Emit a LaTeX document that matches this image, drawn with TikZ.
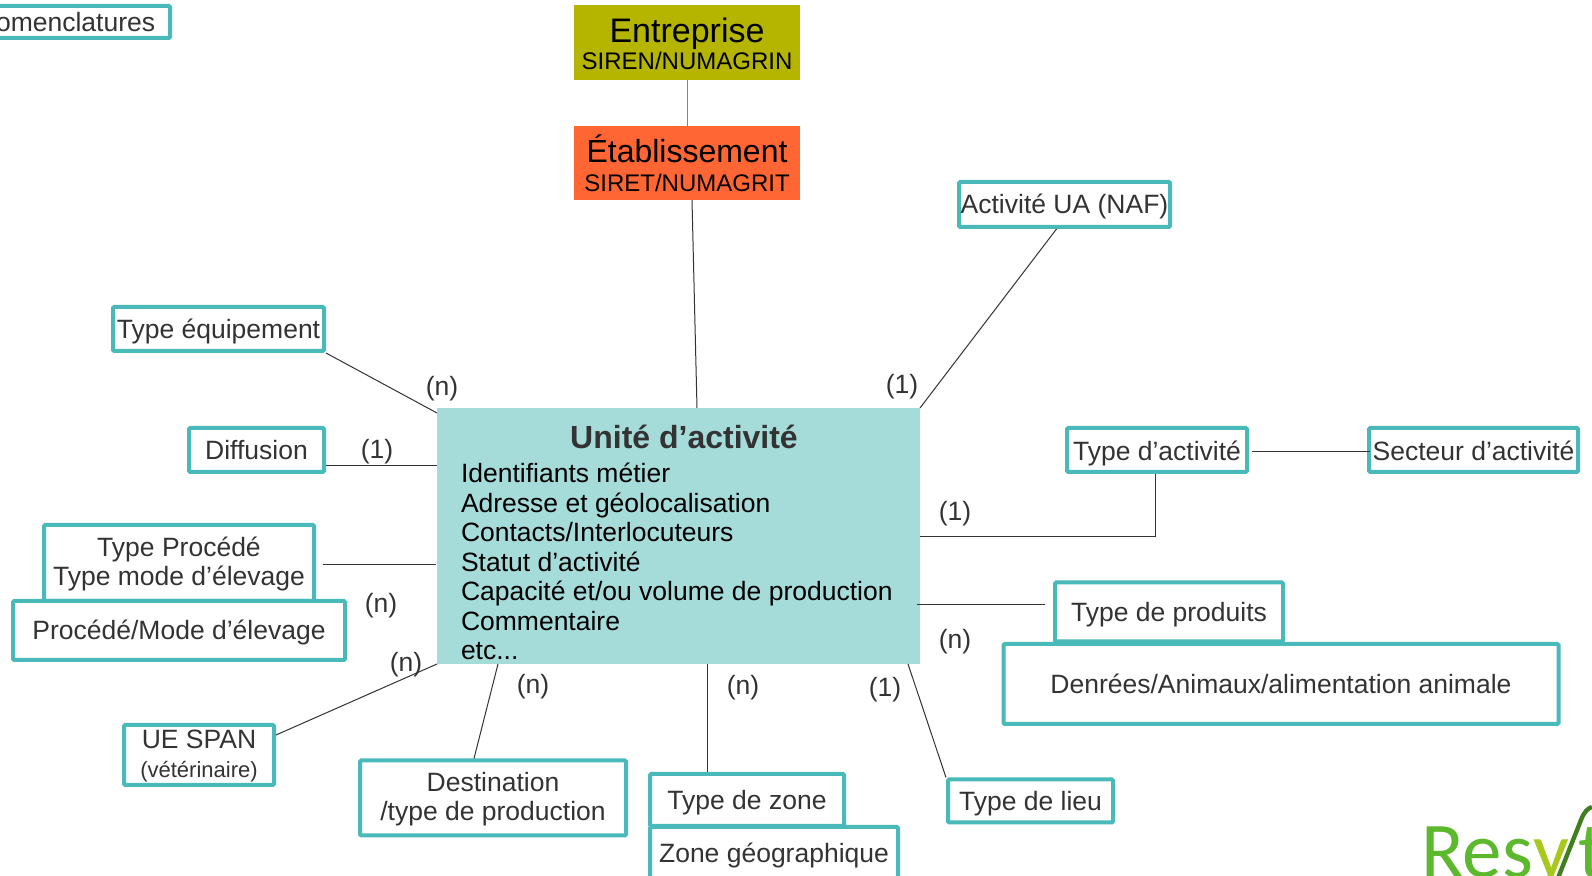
\documentclass[tikz,border=0pt]{standalone}
\usepackage{fontspec}
\setmainfont{Liberation Sans}
\newfontfamily\logofont{Carlito}
\usetikzlibrary{positioning,calc}
\definecolor{boxteal}{HTML}{4AB9B9}
\definecolor{unitefill}{HTML}{A5DBD9}
\definecolor{entreprisefill}{HTML}{B5B500}
\definecolor{etabfill}{HTML}{FF6633}
\definecolor{textgrey}{HTML}{333333}
\definecolor{siren}{HTML}{3A9BD0}
\definecolor{resgreen}{HTML}{5CB82C}
\definecolor{ygreen}{HTML}{A8C81E}
\definecolor{rootgreen}{HTML}{3F7F1E}
\tikzstyle{every node}=[font=\fontsize{13.25}{14.5}\selectfont]
\tikzstyle{entity}=[draw=boxteal,line width=2pt,fill=white,rounded corners=0.6pt,inner sep=0pt,text=textgrey,align=center]
\tikzstyle{oneline}=[text height=9.5pt,text depth=0pt]
\tikzstyle{twolines}=[text depth=1.5pt]
\tikzstyle{head}=[inner sep=0pt,outer sep=0pt,align=center,text=black]
\tikzstyle{card}=[inner sep=0pt,text=textgrey]
\tikzstyle{link}=[line width=0.5pt,draw=textgrey]
\tikzstyle{logo}=[inner sep=0pt,anchor=base west,font=\fontsize{39.5}{40}\logofont]
\tikzset{boxsize/.style 2 args={minimum width=#1*0.5pt,minimum height=#2*0.5pt}}
\newcommand{\bigline}[2]{{\fontsize{#1}{14.5}\selectfont #2}}
\newcommand{\smallline}[1]{{\fontsize{12}{14.5}\selectfont #1}}

\begin{document}
\begin{tikzpicture}[x=0.5pt,y=-0.5pt]
      \useasboundingbox (0,0) rectangle (1592,876);
      \clip (0,0) rectangle (1592,876);

      \node [entity,oneline,boxsize={208}{32}] (nomenclatures) at (66,22) {Nomenclatures};

      \node [head,text depth=0pt,fill=entreprisefill,boxsize={226}{75}] (entreprise) at (687,42.5) {\rule{0pt}{14pt}\bigline{17}{Entreprise}\\[-1pt]\smallline{SIREN/NUMAGRIN}};
      \node [head,text depth=0pt,fill=etabfill,boxsize={226}{74}] (etablissement) at (687,163) {\bigline{16}{Établissement}\\\smallline{SIRET/NUMAGRIT}};

      \node [head,fill=unitefill,boxsize={483}{256}] (unite) at (678.5,536) {};
      \node [head,text=textgrey,font=\fontsize{16}{18}\selectfont\bfseries] (unitetitle) at (684,436.5) {Unité d’activité};
      \node [head,anchor=north west,align=left,font=\fontsize{13.25}{14.75}\selectfont] (unitelist) at (461,463) {Identifiants métier\\Adresse et géolocalisation\\Contacts/Interlocuteurs\\Statut d’activité\\Capacité et/ou volume de production\\Commentaire\\etc...};

      \node [entity,oneline,boxsize={211}{45}] (activiteua) at (1064.5,204.5) {Activité UA (NAF)};
      \node [entity,oneline,boxsize={211}{44}] (typeequip) at (218.5,329) {Type équipement};
      \node [entity,oneline,boxsize={135}{44}] (diffusion) at (256.5,450) {Diffusion};
      \node [entity,twolines,boxsize={270}{76}] (typeprocede) at (179,563) {Type Procédé\\Type mode d’élevage};
      \node [entity,oneline,boxsize={332}{59}] (procede) at (179,630.5) {Procédé/Mode d’élevage};
      \node [entity,twolines,boxsize={150}{60}] (uespan) at (199,755) {UE SPAN\\{\fontsize{11}{12}\selectfont (vétérinaire)}};
      \node [entity,twolines,boxsize={266}{75}] (destination) at (493,798) {Destination\\/type de production};
      \node [entity,oneline,boxsize={194}{52}] (typezone) at (747,800) {Type de zone};
      \node [entity,oneline,boxsize={248}{52}] (zonegeo) at (774,853) {Zone géographique};
      \node [entity,oneline,boxsize={165}{43}] (typelieu) at (1030.5,801) {Type de lieu};
      \node [entity,oneline,boxsize={228}{59}] (typeproduits) at (1169,612) {Type de produits};
      \node [entity,oneline,boxsize={555}{80}] (denrees) at (1281,684) {Denrées/Animaux/alimentation animale};
      \node [entity,oneline,text height=11pt,boxsize={180}{44}] (typeactivite) at (1157,450) {Type d’activité};
      \node [entity,oneline,text height=11pt,boxsize={209}{44}] (secteur) at (1473.5,450) {Secteur d’activité};

      \node [card] (cardequip) at (442,389) {(n)};
      \node [card] (cardua) at (902,387) {(1)};
      \node [card] (carddiffusion) at (377,452) {(1)};
      \node [card] (cardtype) at (955,514) {(1)};
      \node [card] (cardprocede) at (381,606) {(n)};
      \node [card] (cardspan) at (406,665) {(n)};
      \node [card] (carddest) at (533,687) {(n)};
      \node [card] (cardzone) at (743,688) {(n)};
      \node [card] (cardlieu) at (885,690) {(1)};
      \node [card] (cardproduits) at (955,642) {(n)};

      \draw [line width=0.5pt,draw=siren] (entreprise) -- (etablissement);
      \draw [link] ($(etablissement.south)+(5,0)$) -- ($(unite.north)+(18.5,0)$);
      \draw [link] (typeequip.south east) -- ($(unite.north west)+(0,5)$);
      \draw [link] ($(activiteua.south)+(-8,0)$) -- (unite.north east);
      \draw [link] ($(unite.west)+(0,-70)$) -- ($(diffusion.east)+(0,16)$);
      \draw [link] ($(unite.west)+(-1,29)$) -- ($(typeprocede.east)+(7,2)$);
      \draw [link] ($(unite.east)+(0,1)$) -| ($(typeactivite.south)+(-2,0)$);
      \draw [link] ($(typeactivite.east)+(3,2)$) -- ($(secteur.west)+(3,2)$);
      \draw [link] ($(unite.east)+(-3,69)$) -- ($(typeproduits.west)+(-8,-7)$);
      \draw [link] ($(unite.south east)+(-12,0)$) -- (typelieu.north west);
      \draw [link] ($(unite.south)+(29,0)$) -- ($(typezone.north)+(-39.5,0)$);
      \draw [link] ($(unite.south)+(-180.5,0)$) -- ($(destination.north)+(-19,0)$);
      \draw [link] (unite.south west) -- ($(uespan.east)+(0,-20)$);

      \node [logo,text=resgreen] (logores) at (1421,878) {Res};
      \node [logo,text=ygreen] (logoy) at (1533,878) {y};
      \node [logo,text=resgreen] (logot) at (1578,878) {t};
      \draw [line width=2.2pt,draw=rootgreen] (1558,878) -- (1581,820) .. controls (1584,812) and (1588,808) .. (1592,807);
\end{tikzpicture}
\end{document}
